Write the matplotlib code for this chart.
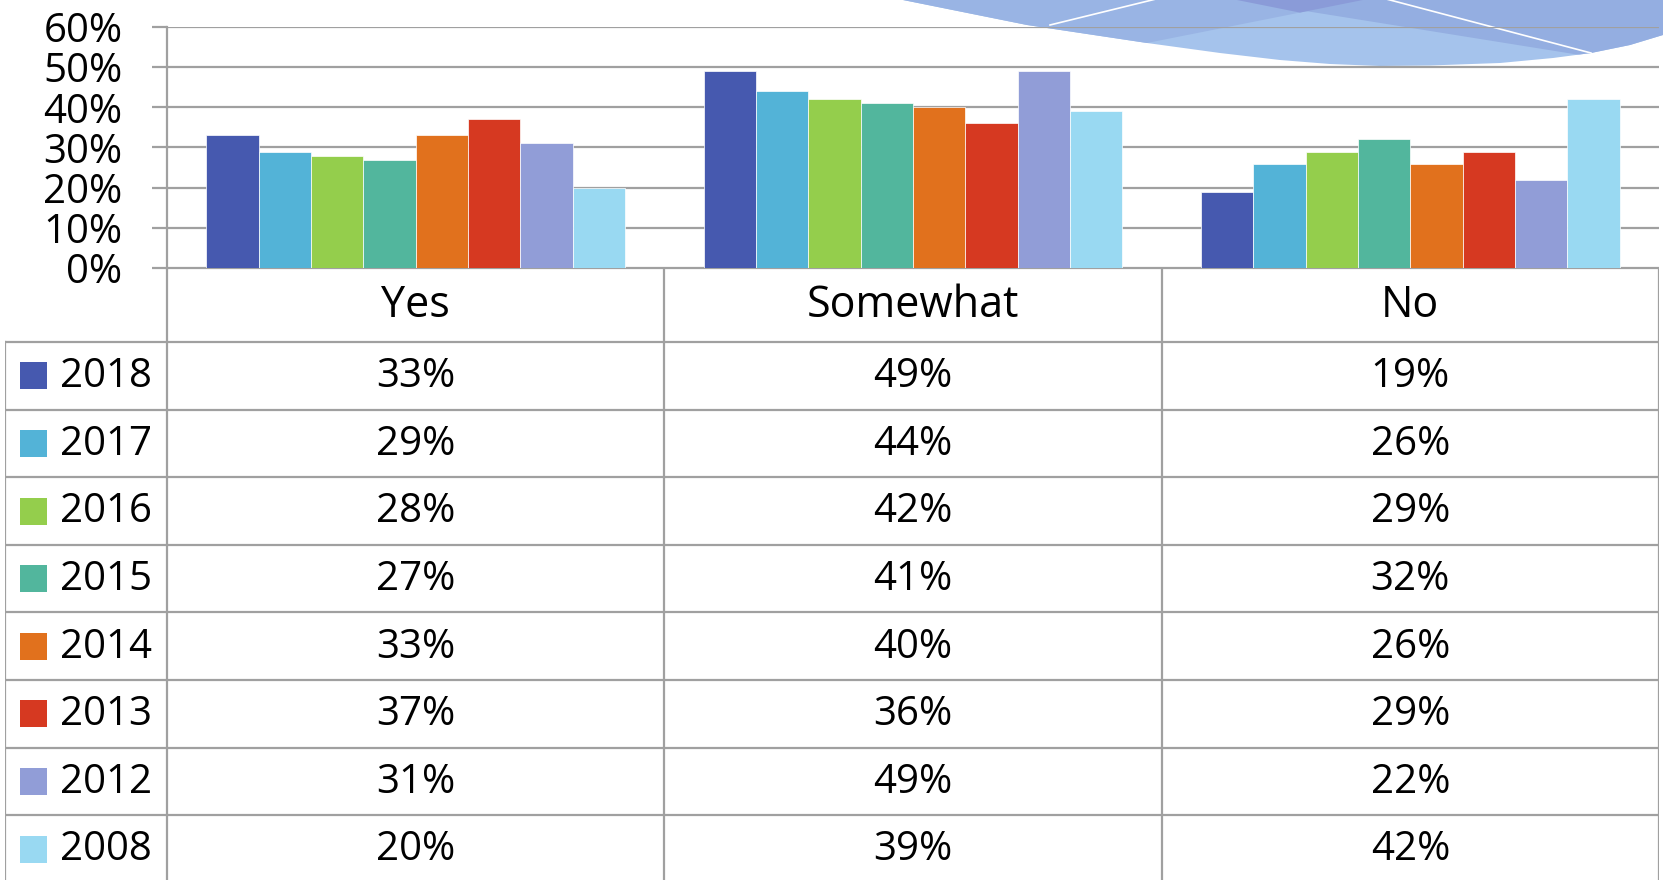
import matplotlib
matplotlib.use('Agg')
import matplotlib.pyplot as plt
from matplotlib.patches import Rectangle, Polygon
import numpy as np

# данные из таблицы под графиком
categories = ['Yes', 'Somewhat', 'No']
years = ['2018', '2017', '2016', '2015', '2014', '2013', '2012', '2008']
yes_vals = [33, 29, 28, 27, 33, 37, 31, 20]
somewhat_vals = [49, 44, 42, 41, 40, 36, 49, 39]
no_vals = [19, 26, 29, 32, 26, 29, 22, 42]
y_ticks = [0, 10, 20, 30, 40, 50, 60]

colors = ['#4659AF', '#53B3D7', '#94CE4C', '#52B69D', '#E1711D', '#D63921', '#919DD7', '#99D9F2']
grid_c = '#A0A0A0'

plt.rcParams['font.family'] = ['Open Sans', 'DejaVu Sans']
W, H = 1663, 880
fig = plt.figure(figsize=(W / 100, H / 100), dpi=100)

# декоративная "волна" в правом верхнем углу (в пикселях)
deco = fig.add_axes([0, 0, 1, 1], zorder=0)
deco.set_xlim(0, W)
deco.set_ylim(H, 0)
deco.axis('off')
edge = [(860, -6), (903, 0), (1027, 25), (1147, 43), (1220, 53), (1280, 60), (1330, 64),
        (1380, 66), (1430, 65.5), (1500, 63), (1553, 58), (1591, 53), (1630, 45), (1663, 35), (1700, 20)]
lens = Polygon(edge + [(1700, -60), (860, -60)], closed=True, fc='#A5C3EC', ec='none')
deco.add_patch(lens)


def line_y(p, q, x):
    return p[1] + (q[1] - p[1]) * (x - p[0]) / (q[0] - p[0])


l1 = ((1147, 43), (1363, 0))
l2 = ((1237, 0), (1580, 55))
xa, xb = 800, 1750
band1 = Polygon([(xa, line_y(*l1, xa)), (xb, line_y(*l1, xb)), (xb, -80), (xa, -80)], fc='#99B4E4', ec='none')
band2 = Polygon([(xa, line_y(*l2, xa)), (xb, line_y(*l2, xb)), (xb, -80), (xa, -80)], fc='#94AEE1', ec='none')
apex = Polygon([(1237, 0), (1300, 12.6), (1363, 0), (1363, -60), (1237, -60)], fc='#8A9BD8', ec='none')
for p in (band2, band1, apex):
    deco.add_patch(p)
    p.set_clip_path(lens)
w1 = deco.plot([1050, 1152, 1200], [25, 0, -12], color='white', lw=1.2)[0]
w2 = deco.plot([1340, 1390, 1591], [-13, 0, 53], color='white', lw=1.2)[0]
w1.set_clip_path(lens)
w2.set_clip_path(lens)

# график
x0, x1 = 167, 1659
y_top, y_base = 27, 268
ax = fig.add_axes([x0 / W, 1 - y_base / H, (x1 - x0) / W, (y_base - y_top) / H], zorder=2)
ax.patch.set_alpha(0)

series = np.array([yes_vals, somewhat_vals, no_vals]).T
n = len(years)
bw = 1 / (n + 1.5)
for j, year in enumerate(years):
    xs = np.arange(len(categories)) - 0.5 + 0.75 * bw + (j + 0.5) * bw
    ax.bar(xs, series[j], width=bw, color=colors[j], edgecolor='#FFFFFF', linewidth=0.5, zorder=3)

ax.set_xlim(-0.5, len(categories) - 0.5)
ax.set_ylim(0, 60)
ax.set_yticks(y_ticks)
ax.set_yticklabels([f'{v}%' for v in y_ticks], fontsize=29)
ax.set_xticks([])
ax.yaxis.grid(True, color=grid_c, lw=1.6)
ax.set_axisbelow(True)
ax.tick_params(axis='y', length=11, width=1.6, color=grid_c, pad=21)
for s in ['top', 'right', 'bottom']:
    ax.spines[s].set_visible(False)
ax.spines['left'].set_color(grid_c)
ax.spines['left'].set_linewidth(1.6)

# таблица данных
t_left, t_bottom = 5, 883
cat_w = (x1 - x0) / len(categories)
xl = -0.5 - (x0 - t_left) / cat_w
tax = fig.add_axes([t_left / W, 1 - t_bottom / H, (x1 - t_left) / W, (t_bottom - y_base) / H], zorder=3)
tax.set_xlim(xl, len(categories) - 0.5)
tax.set_ylim(t_bottom, y_base)
tax.axis('off')

head_bot = 342
row_h = (t_bottom - head_bot) / n
lk = dict(color=grid_c, lw=1.6, solid_capstyle='projecting')
tax.plot([-0.5, len(categories) - 0.5], [y_base, y_base], **lk)
for k in range(n + 1):
    yy = head_bot + k * row_h
    tax.plot([xl, len(categories) - 0.5], [yy, yy], **lk)
tax.plot([xl, xl], [head_bot, t_bottom], **lk)
for i in range(len(categories) + 1):
    tax.plot([i - 0.5, i - 0.5], [y_base, t_bottom], **lk)

for i, cat in enumerate(categories):
    tax.text(i, (y_base + head_bot) / 2 + 1, cat, ha='center', va='center', fontsize=31)

sq = 27
for j, year in enumerate(years):
    yc = head_bot + (j + 0.5) * row_h
    tax.add_patch(Rectangle((xl + 15 / cat_w, yc - sq / 2), sq / cat_w, sq, fc=colors[j], ec='none'))
    tax.text(xl + 55 / cat_w, yc + 1, year, ha='left', va='center', fontsize=29)
    for i in range(len(categories)):
        tax.text(i, yc + 1, f'{series[j][i]}%', ha='center', va='center', fontsize=29)

fig.savefig('out.png', dpi=100)
